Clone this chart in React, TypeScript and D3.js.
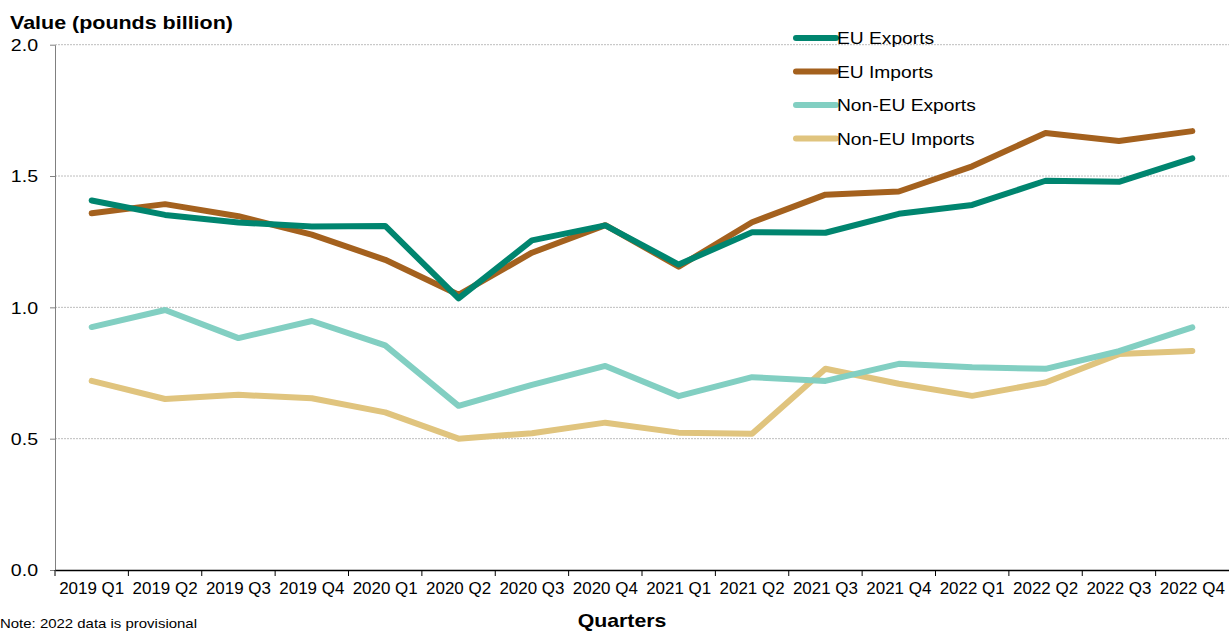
import * as d3 from "d3";
import { useEffect } from "react";

const quarters = [
  "2019 Q1", "2019 Q2", "2019 Q3", "2019 Q4",
  "2020 Q1", "2020 Q2", "2020 Q3", "2020 Q4",
  "2021 Q1", "2021 Q2", "2021 Q3", "2021 Q4",
  "2022 Q1", "2022 Q2", "2022 Q3", "2022 Q4",
];
const euExports = [1.407, 1.352, 1.323, 1.308, 1.31, 1.034, 1.255, 1.312, 1.163, 1.286, 1.284, 1.356, 1.39, 1.482, 1.478, 1.567];
const euImports = [1.358, 1.393, 1.347, 1.277, 1.181, 1.048, 1.208, 1.313, 1.155, 1.324, 1.429, 1.441, 1.537, 1.664, 1.633, 1.671];
const nonEuExports = [0.925, 0.99, 0.883, 0.948, 0.855, 0.625, 0.705, 0.777, 0.662, 0.734, 0.72, 0.785, 0.772, 0.766, 0.833, 0.924];
const nonEuImports = [0.72, 0.651, 0.667, 0.654, 0.6, 0.5, 0.521, 0.561, 0.523, 0.519, 0.766, 0.709, 0.663, 0.714, 0.822, 0.834];
const yTicks = [0, 0.5, 1.0, 1.5, 2.0];

const series = [
  { name: "EU Exports", values: euExports, color: "#00856f" },
  { name: "EU Imports", values: euImports, color: "#a4611e" },
  { name: "Non-EU Exports", values: nonEuExports, color: "#82cfc2" },
  { name: "Non-EU Imports", values: nonEuImports, color: "#e0c47e" },
];

const W = 1229;
const H = 633;
const font = "'Liberation Sans', Arial, sans-serif";
// the source image is a little stretched sideways, so texts get widened
const stretch = 1.15;

const widen = (sel: any, k = stretch) =>
  sel.each(function (this: SVGTextElement) {
    const w = this.getComputedTextLength();
    d3.select(this)
      .attr("textLength", w * k)
      .attr("lengthAdjust", "spacingAndGlyphs");
  });

const drawChart = (node: SVGSVGElement) => {
  const left = 55;
  const right = W;
  const top = 44.7;
  const bottom = 570;

  const svg = d3.select(node);
  svg.selectAll("*").remove();

  const x = d3.scaleBand().domain(quarters).range([left, right]);
  const y = d3.scaleLinear().domain([0, 2]).range([bottom, top]);

  // dotted gridlines
  svg
    .append("g")
    .selectAll("line")
    .data(yTicks.filter(t => t > 0))
    .enter()
    .append("line")
    .attr("x1", left)
    .attr("x2", right)
    .attr("y1", d => y(d))
    .attr("y2", d => y(d))
    .attr("stroke", "#bdbdbd")
    .attr("stroke-width", 1)
    .attr("stroke-dasharray", "2,1");

  // y axis
  const yAxis = svg
    .append("g")
    .attr("transform", `translate(${left},0)`)
    .call(
      d3.axisLeft(y)
        .tickValues(yTicks)
        .tickFormat(d3.format(".1f"))
        .tickSize(5)
        .tickSizeOuter(0)
    );
  yAxis.select(".domain").attr("stroke", "#808080");
  yAxis.selectAll(".tick line").attr("stroke", "#808080");
  yAxis
    .selectAll("text")
    .attr("font-family", font)
    .attr("font-size", 17)
    .attr("fill", "#000")
    .attr("x", -17)
    .attr("dy", "0.35em")
    .call(widen);

  // x axis
  const xAxis = svg
    .append("g")
    .attr("transform", `translate(0,${bottom})`)
    .call(d3.axisBottom(x).tickSize(0).tickSizeOuter(0));
  xAxis.select(".domain").attr("stroke", "#000").attr("stroke-width", 1.5);
  xAxis
    .selectAll("text")
    .attr("font-family", font)
    .attr("font-size", 16)
    .attr("fill", "#000")
    .attr("y", 13)
    .attr("dy", "0.71em")
    .attr("textLength", 65)
    .attr("lengthAdjust", "spacingAndGlyphs");

  svg
    .append("g")
    .selectAll("line")
    .data(quarters)
    .enter()
    .append("line")
    .attr("x1", d => x(d) as number)
    .attr("x2", d => x(d) as number)
    .attr("y1", bottom)
    .attr("y2", bottom + 6)
    .attr("stroke", "#000");

  // lines
  const line = d3
    .line<number>()
    .x((_, i) => (x(quarters[i]) as number) + x.bandwidth() / 2)
    .y(d => y(d));

  svg
    .append("g")
    .selectAll("path")
    .data([...series].reverse())
    .enter()
    .append("path")
    .attr("d", d => line(d.values))
    .attr("fill", "none")
    .attr("stroke", d => d.color)
    .attr("stroke-width", 6)
    .attr("stroke-linejoin", "round")
    .attr("stroke-linecap", "round");

  // legend
  const legend = svg
    .append("g")
    .selectAll("g")
    .data(series)
    .enter()
    .append("g")
    .attr("transform", (_, i) => `translate(796,${38 + i * 33.5})`);

  legend
    .append("line")
    .attr("x1", 0)
    .attr("x2", 40)
    .attr("stroke", d => d.color)
    .attr("stroke-width", 6)
    .attr("stroke-linecap", "round");

  legend
    .append("text")
    .attr("x", 41)
    .attr("dy", "0.36em")
    .attr("font-family", font)
    .attr("font-size", 17)
    .attr("fill", "#000")
    .text(d => d.name)
    .call(widen, 1.13);

  // titles
  svg
    .append("text")
    .attr("x", 10)
    .attr("y", 29)
    .attr("font-family", font)
    .attr("font-size", 18.5)
    .attr("font-weight", "bold")
    .text("Value (pounds billion)")
    .call(widen, 1.16);

  svg
    .append("text")
    .attr("x", 622)
    .attr("y", 627)
    .attr("text-anchor", "middle")
    .attr("font-family", font)
    .attr("font-size", 18.5)
    .attr("font-weight", "bold")
    .text("Quarters")
    .call(widen);

  svg
    .append("text")
    .attr("x", 0)
    .attr("y", 628)
    .attr("font-family", font)
    .attr("font-size", 13)
    .text("Note: 2022 data is provisional")
    .call(widen);
};

export default function App() {
  useEffect(() => {
    document.body.style.margin = "0";
    const node = document.getElementById("chart") as unknown as SVGSVGElement;
    if (node) drawChart(node);
  }, []);

  return (
    <div style={{ position: "absolute", left: 0, top: 0, background: "#fff" }}>
      <svg id="chart" width={W} height={H} style={{ display: "block" }}></svg>
    </div>
  );
}
